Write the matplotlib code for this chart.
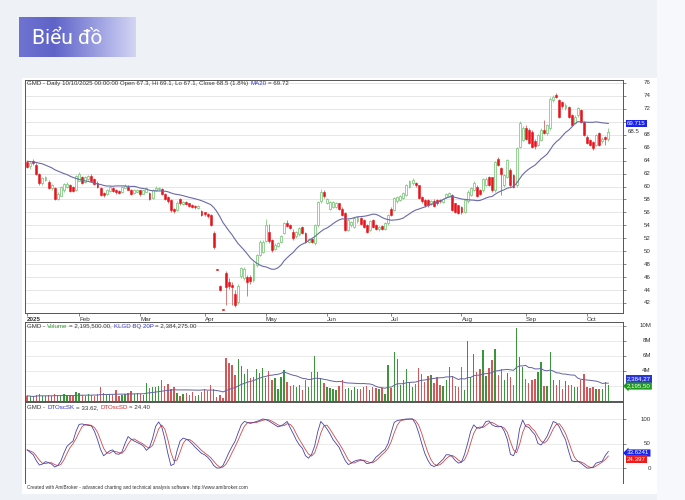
import numpy as np
import pandas as pd
import matplotlib
matplotlib.use("Agg")
import matplotlib.pyplot as plt
from matplotlib.colors import LinearSegmentedColormap
from matplotlib.patches import Rectangle
from matplotlib.transforms import blended_transform_factory

# GMD daily bars, 02/01/2025 .. 10/10/2025 (one value per trading day)
opens = [
    63.8, 63.1, 64.0, 63.4, 62.0, 60.5, 61.0, 60.7, 59.7, 59.8, 58.0, 58.6, 59.4, 59.9, 60.2, 60.0, 59.4,  # Jan
    60.9, 61.4, 60.7, 61.1, 61.6, 61.2, 60.6, 59.7, 59.0, 58.8, 59.3, 59.8, 59.4, 59.3, 59.1, 59.8, 60.0, 59.5, 59.0, 59.2,  # Feb
    59.4, 58.9, 59.2, 59.0, 58.3, 59.4, 59.6, 59.6, 58.9, 58.4, 57.9, 56.5, 56.4, 58.0, 57.3, 57.6, 57.4, 57.2, 57.0, 56.7, 56.2,  # Mar
    56.0, 55.8, 55.6, 52.8, 47.2, 44.6, 41.0, 46.6, 45.3, 44.8, 43.4, 42.2, 46.2, 45.9, 46.0, 46.0, 45.5, 47.9, 49.4, 49.9,  # Apr
    51.6, 53.0, 51.7, 50.4, 50.8, 51.5, 52.8, 54.4, 54.0, 53.0, 52.3, 52.6, 53.7, 52.8, 51.5, 51.9, 51.2, 54.0, 57.7, 59.2,  # May
    57.5, 56.6, 56.9, 56.9, 57.4, 56.6, 55.9, 53.3, 54.0, 53.8, 54.6, 55.1, 54.8, 54.0, 53.3, 54.8, 54.0, 53.4, 53.9, 53.5, 54.3,  # Jun
    56.6, 56.4, 57.7, 57.9, 58.2, 58.7, 60.0, 60.5, 60.5, 60.2, 58.4, 57.9, 57.9, 57.4, 57.8, 57.9, 57.9, 57.6, 58.4, 58.6, 58.7, 57.4, 57.1,  # Jul
    56.9, 56.1, 57.7, 58.7, 59.5, 60.0, 59.4, 59.4, 60.3, 61.4, 61.4, 59.4, 64.2, 62.8, 60.2, 61.5, 62.6, 61.8, 60.2, 66.1, 67.2,  # Aug
    69.0, 68.7, 68.5, 67.0, 66.4, 67.2, 68.7, 68.2, 69.0, 73.3, 74.2, 73.4, 73.0, 72.1, 72.3, 71.0, 69.8, 71.0, 71.8, 70.0,  # Sep
    67.7, 67.2, 66.9, 66.4, 68.2, 67.0, 67.6, 67.3,  # Oct
]
highs = [
    64.0, 63.8, 64.2, 63.6, 62.1, 61.5, 61.6, 61.0, 60.4, 60.0, 59.1, 60.1, 60.6, 60.7, 60.4, 60.1, 61.8,
    62.3, 61.6, 61.7, 61.8, 62.0, 61.3, 60.8, 59.9, 59.1, 59.6, 60.1, 60.0, 59.6, 59.4, 60.1, 60.4, 60.2, 59.6, 59.6, 59.6,
    59.5, 59.5, 59.9, 59.2, 59.6, 60.1, 60.0, 59.8, 59.0, 58.5, 58.0, 56.7, 57.7, 58.2, 57.8, 57.8, 57.5, 57.3, 57.1, 57.2, 56.4,
    56.1, 55.9, 55.7, 53.2, 47.3, 44.8, 41.0, 46.9, 45.8, 45.2, 44.0, 44.9, 47.6, 47.6, 46.4, 46.3, 48.3, 49.6, 51.7, 51.8,
    55.0, 54.2, 51.9, 51.2, 51.5, 52.5, 54.5, 54.9, 54.2, 53.4, 53.2, 53.8, 53.9, 53.0, 52.1, 52.1, 54.2, 57.8, 59.6, 59.4,
    58.2, 57.8, 57.8, 57.6, 57.5, 56.8, 56.0, 55.0, 54.7, 55.3, 55.5, 55.3, 55.0, 54.2, 54.8, 55.0, 54.2, 53.9, 54.0, 54.5, 55.8,
    56.8, 58.4, 58.6, 58.7, 59.1, 60.4, 61.0, 61.3, 60.7, 60.3, 58.6, 58.0, 58.1, 57.9, 58.0, 58.1, 58.0, 58.3, 59.0, 59.2, 58.9, 57.5, 57.2,
    57.0, 58.1, 59.4, 59.9, 60.8, 60.2, 59.6, 61.3, 61.4, 61.6, 61.5, 64.0, 64.5, 63.0, 62.0, 64.3, 62.8, 62.0, 66.1, 70.1, 69.3,
    69.5, 69.0, 68.8, 67.3, 68.1, 69.0, 70.3, 69.7, 73.8, 74.2, 74.5, 73.6, 73.2, 72.9, 72.5, 71.2, 71.0, 72.3, 72.0, 70.2,
    67.9, 67.4, 67.0, 68.1, 68.4, 67.6, 67.8, 69.1,
]
lows = [
    62.8, 62.7, 63.4, 61.8, 60.3, 60.3, 60.8, 59.6, 59.5, 57.9, 57.9, 58.5, 59.2, 59.8, 59.2, 59.1, 59.3,
    60.8, 60.4, 60.5, 61.0, 60.8, 60.2, 59.7, 58.5, 58.4, 58.7, 59.2, 59.1, 58.9, 58.8, 59.0, 59.7, 59.4, 58.7, 58.9, 59.1,
    58.6, 58.8, 59.1, 57.9, 58.1, 59.3, 59.4, 58.7, 57.9, 57.5, 56.1, 55.9, 56.2, 57.2, 57.1, 57.1, 56.9, 56.7, 56.6, 56.6, 55.5,
    55.5, 55.2, 53.9, 50.4, 47.1, 43.8, 40.9, 41.7, 44.2, 41.7, 41.4, 41.9, 45.8, 45.6, 43.1, 45.0, 45.3, 47.6, 49.2, 49.7,
    51.4, 51.3, 49.9, 50.2, 50.6, 51.3, 52.6, 53.7, 53.4, 51.8, 52.1, 52.4, 52.6, 51.3, 51.3, 51.2, 51.0, 53.8, 57.5, 58.3,
    57.3, 56.4, 56.7, 56.7, 56.4, 55.4, 53.1, 53.1, 53.8, 53.6, 54.4, 54.0, 53.6, 52.8, 53.1, 53.6, 53.3, 53.2, 53.3, 53.3, 54.1,
    55.4, 56.2, 57.5, 57.7, 58.0, 58.5, 59.8, 60.3, 60.0, 58.0, 57.5, 56.9, 56.9, 57.2, 56.8, 57.2, 57.5, 57.4, 58.2, 58.4, 56.2, 55.9, 55.7,
    55.7, 55.9, 57.5, 58.5, 59.3, 58.4, 58.7, 59.2, 60.1, 60.1, 59.2, 59.2, 63.1, 58.7, 60.0, 61.3, 60.0, 59.8, 60.0, 65.9, 67.0,
    67.2, 66.5, 65.9, 65.8, 66.2, 67.0, 68.1, 68.0, 68.8, 73.1, 73.7, 70.6, 72.2, 71.9, 70.6, 69.3, 69.6, 70.8, 69.8, 67.8,
    66.5, 66.2, 65.7, 66.2, 66.2, 66.8, 66.4, 67.1,
]
closes = [
    63.0, 63.6, 63.6, 61.9, 60.5, 61.3, 61.4, 59.8, 60.2, 58.0, 58.9, 59.9, 60.4, 60.4, 59.3, 59.3, 61.6,
    62.0, 60.6, 61.5, 61.6, 60.9, 60.4, 59.9, 58.7, 58.7, 59.4, 59.9, 59.3, 59.1, 59.0, 59.9, 60.1, 59.5, 58.9, 59.4, 59.4,
    58.8, 59.4, 59.7, 58.0, 59.4, 59.7, 59.8, 58.8, 58.0, 57.7, 56.3, 56.2, 57.5, 57.4, 57.6, 57.3, 57.0, 56.9, 56.8, 57.0, 55.6,
    55.7, 55.4, 54.0, 50.6, 47.1, 44.0, 40.9, 44.5, 44.7, 44.4, 41.7, 44.6, 47.4, 47.2, 45.3, 45.4, 48.1, 49.4, 51.5, 51.5,
    54.0, 51.6, 50.2, 51.0, 51.3, 52.3, 54.3, 53.9, 53.6, 52.0, 53.0, 53.6, 52.8, 51.5, 51.9, 51.4, 54.0, 57.6, 59.2, 58.5,
    58.0, 57.6, 57.6, 57.4, 56.6, 55.6, 53.3, 54.8, 54.5, 55.1, 55.3, 54.2, 53.8, 53.0, 54.6, 53.8, 53.5, 53.7, 53.5, 54.3, 55.6,
    55.6, 58.2, 58.4, 58.5, 59.0, 60.2, 60.8, 61.0, 60.2, 58.2, 57.7, 57.1, 57.1, 57.7, 57.0, 57.4, 57.7, 58.1, 58.8, 59.0, 56.4, 56.1, 55.9,
    56.0, 57.9, 59.2, 59.7, 60.6, 58.6, 58.9, 61.1, 61.2, 60.3, 59.4, 63.8, 63.3, 62.0, 61.8, 64.1, 60.2, 60.0, 65.9, 69.8, 69.0,
    67.4, 66.7, 66.1, 66.2, 67.9, 68.8, 68.3, 69.5, 73.6, 73.9, 73.9, 70.8, 72.4, 72.6, 70.8, 69.5, 70.8, 72.1, 70.0, 68.0,
    66.7, 66.4, 66.0, 67.9, 66.4, 67.3, 67.3, 68.5,
]
# volume in millions of shares
volume_mln = [
    0.7, 0.6, 0.5, 0.8, 0.9, 0.6, 0.7, 0.8, 0.6, 0.9, 0.7, 0.8, 0.9, 0.7, 0.8, 0.6, 1.2,
    1.0, 0.8, 0.7, 0.9, 0.8, 0.7, 0.9, 1.8, 1.0, 0.8, 0.9, 0.8, 1.5, 0.7, 0.8, 0.9, 1.0, 1.3, 0.9, 1.1,
    0.9, 0.8, 2.36, 1.69, 1.82, 1.82, 2.0, 2.8, 2.0, 2.27, 1.56, 1.82, 1.0, 0.6, 0.9, 1.0, 0.8, 1.24, 0.6, 0.8, 1.24,
    1.56, 1.3, 2.13, 1.56, 0.58, 0.8, 0.36, 5.69, 5.11, 4.8, 3.47, 5.56, 4.67, 3.6, 4.22, 3.0, 3.24, 4.22, 3.69, 4.44,
    3.0, 4.0, 2.8, 3.0, 1.56, 3.24, 4.13, 2.58, 2.0, 2.13, 1.91, 2.13, 1.47, 2.8, 1.82, 3.91, 6.0, 3.91, 3.0, 2.36,
    1.82, 1.69, 1.56, 1.47, 2.0, 2.8, 1.56, 1.69, 1.47, 1.82, 1.56, 1.56, 1.82, 2.0, 1.47, 1.82, 1.69, 1.56, 1.69, 0.93, 4.8,
    1.69, 6.5, 5.56, 2.13, 2.8, 4.22, 2.58, 1.82, 2.27, 4.36, 3.6, 2.58, 3.33, 3.47, 2.44, 3.16, 2.13, 2.0, 2.8, 4.49, 3.33, 2.0, 1.82,
    4.58, 1.47, 8.04, 3.16, 6.27, 3.91, 4.22, 6.8, 3.33, 4.36, 5.47, 6.89, 3.47, 4.22, 2.8, 3.69, 3.16, 2.13, 9.69, 5.91, 4.58,
    2.89, 2.36, 2.8, 2.89, 3.91, 5.24, 2.0, 2.0, 6.58, 2.8, 2.13, 2.8, 1.6, 2.6, 2.13, 2.13, 1.82, 1.91, 2.8, 3.55,
    1.82, 1.7, 1.8, 1.6, 1.55, 1.56, 2.58, 2.1955,
]
# DTOsc %K line
dtosc_sk = [
    37, 32, 27, 15, 6, 8, 13, 11, 8, 2,
    5, 14, 30, 44, 50, 55, 75, 89, 90, 88,
    87, 86, 75, 58, 38, 25, 30, 35, 37, 29,
    28, 33, 50, 64, 59, 55, 52, 49, 45, 36,
    42, 60, 85, 94, 84, 60, 30, 5, 8, 35,
    55, 61, 59, 55, 49, 42, 36, 30, 27, 22,
    15, 5, 0, 0, 5, 18, 32, 44, 55, 72,
    88, 95, 93, 91, 93, 95, 97, 100, 99, 96,
    92, 88, 84, 86, 90, 95, 82, 70, 57, 47,
    40, 25, 20, 28, 45, 74, 95, 88, 80, 70,
    58, 50, 42, 28, 15, 7, 10, 14, 16, 17,
    15, 9, 10, 13, 22, 27, 33, 38, 50, 72,
    93, 97, 98, 99, 100, 100, 100, 90, 72, 50,
    30, 16, 6, 3, 6, 12, 18, 27, 27, 23,
    15, 10, 12, 28, 50, 75, 88, 82, 81, 85,
    95, 96, 88, 85, 84, 85, 75, 58, 28, 25,
    40, 80, 98, 85, 83, 75, 68, 50, 47, 55,
    65, 80, 95, 92, 84, 70, 58, 35, 15, 13,
    14, 10, 5, 0, 0, 2, 10, 12, 14, 25.5,
    33.6241,
]
# MA20 of the first 19 bars (it needs Dec 2024 closes)
ma20_start = [63.9, 63.85, 63.8, 63.7, 63.6, 63.5, 63.3, 63.1, 62.9, 62.6,
              62.4, 62.2, 62.0, 61.85, 61.6, 61.4, 61.25, 61.1, 61.0]

month_first_bar = [0, 17, 37, 58, 78, 98, 119, 142, 163, 183]
month_labels = ["2025", "Feb", "Mar", "Apr", "May", "Jun", "Jul", "Aug", "Sep", "Oct"]
price_ticks = list(range(42, 77, 2))
vol_ticks = [2, 4, 6, 8, 10]
osc_ticks = [0, 50, 100]
# tick labels that sit under the value boxes on the right and are not shown
hidden_price_labels = [70]
hidden_vol_labels = [2]

assert len(opens) == len(highs) == len(lows) == len(closes) == len(volume_mln) == len(dtosc_sk) == 191

W, H = 685, 500
FONT = "Liberation Sans"
DARK = "#333333"


def fx(px):
    return px / W


def fy(py):
    return 1 - py / H


o = np.array(opens)
h = np.array(highs)
l = np.array(lows)
c = np.array(closes)
vol = np.array(volume_mln)
x = np.arange(len(c))
up = c >= o

ma20 = pd.Series(c).rolling(20).mean().to_numpy()
ma20[:19] = ma20_start
vol_ma = pd.Series(vol).rolling(20, min_periods=1).mean().to_numpy()
sk = np.array(dtosc_sk, dtype=float)
sd = pd.Series(sk).rolling(3, min_periods=1).mean().to_numpy()

fig = plt.figure(figsize=(W / 100, H / 100), dpi=100)
fig.patch.set_facecolor("#eef2f7")
fig.add_artist(Rectangle((fx(657), 0), 1 - fx(657), 1, transform=fig.transFigure,
                         facecolor="#f6f8fb", edgecolor="none", zorder=-10))
fig.add_artist(Rectangle((fx(22), fy(494)), fx(657) - fx(22), fy(78) - fy(494),
                         transform=fig.transFigure, facecolor="white", edgecolor="none", zorder=-9))

# header
hax = fig.add_axes([fx(19), fy(57), fx(136) - fx(19), fy(17) - fy(57)])
grad = np.linspace(0, 1, 256).reshape(1, -1)
hcmap = LinearSegmentedColormap.from_list(
    "hdr", [(0, "#6f73d1"), (0.3, "#5f63c8"), (0.75, "#a9acE6"), (1, "#d3d5f4")])
hax.imshow(grad, aspect="auto", cmap=hcmap, extent=(0, 1, 0, 1))
hax.set_axis_off()
hax.text(0.11, 0.47, "Biểu đồ", color="white", fontsize=15, family="Roboto",
         va="center", ha="left")

L, R = 25, 623


def panel(top, bottom):
    ax = fig.add_axes([fx(L), fy(bottom), fx(R) - fx(L), fy(top) - fy(bottom)])
    ax.set_xlim(-0.7, 194.8)
    for s in ax.spines.values():
        s.set_color("#555555")
        s.set_linewidth(0.7)
    ax.tick_params(axis="y", left=False, labelleft=False, right=True, labelright=False,
                   direction="out", length=2.5, width=0.5, color="#555555")
    return ax


ax_p = panel(80, 313)
ax_v = panel(322, 401)
ax_o = panel(402, 483)
ax_o.spines["bottom"].set_visible(False)

LAB_X = (651 - L) / (R - L)
BOX_X = (627 - L) / (R - L)


def right_labels(ax, ticks, texts, hidden=()):
    tr = blended_transform_factory(ax.transAxes, ax.transData)
    for v, s in zip(ticks, texts):
        if v in hidden:
            continue
        ax.text(LAB_X, v, s, transform=tr, ha="right", va="center", fontsize=4.4,
                color=DARK, family=FONT, clip_on=False)


def value_box(ax, y, s, fc, style="square"):
    tr = blended_transform_factory(ax.transAxes, ax.transData)
    ax.text(BOX_X, y, s, transform=tr, ha="left", va="center", fontsize=4.4, color="white",
            family=FONT, clip_on=False, zorder=10,
            bbox=dict(boxstyle=style + ",pad=0.18", fc=fc, ec="none"))


def title_line(ax, y, parts, size=4.4):
    prev = ax.text(0.004, y, parts[0][0], transform=ax.transAxes, color=parts[0][1],
                   fontsize=size, family=FONT, va="center", ha="left")
    for s, col in parts[1:]:
        prev = ax.annotate(s, xy=(1, 0), xycoords=prev, xytext=(1.2, 0),
                           textcoords="offset points", color=col, fontsize=size,
                           family=FONT, va="bottom", ha="left")


# ---- price panel
UP = "#6cc06c"
DN = "#e5141c"
DN_WICK = "#c84a4a"
ax_p.set_ylim(40.45, 76.46)
ax_p.set_yticks(price_ticks)
ax_p.grid(axis="y", color="#e2e2e2", lw=0.6)
ax_p.set_axisbelow(True)
ax_p.vlines(x[up], l[up], h[up], color=UP, lw=0.5, zorder=2)
ax_p.vlines(x[~up], l[~up], h[~up], color=DN_WICK, lw=0.5, zorder=2)
body_lo = np.minimum(o, c)
body_h = np.maximum(np.abs(c - o), 0.08)
ax_p.bar(x[up], body_h[up], bottom=body_lo[up], width=0.62, facecolor="white",
         edgecolor=UP, lw=0.5, zorder=3)
ax_p.bar(x[~up], body_h[~up], bottom=body_lo[~up], width=0.62, facecolor=DN,
         edgecolor=DN, lw=0.4, zorder=3)
ax_p.plot(x, ma20, color="#6a6aaa", lw=0.8, zorder=4)

ax_p.set_xticks(month_first_bar)
ax_p.set_xticklabels(month_labels, fontsize=4.5, family=FONT, color=DARK, ha="left")
ax_p.get_xticklabels()[0].set_fontweight("bold")
ax_p.tick_params(axis="x", direction="out", length=2.2, width=0.5, color="#555555", pad=0.6)

right_labels(ax_p, price_ticks, [str(v) for v in price_ticks], hidden_price_labels)
value_box(ax_p, ma20[-1], "69.715", "#1a22f0")
ax_p.text(BOX_X + 0.002, c[-1] - 0.05, "68.5",
          transform=blended_transform_factory(ax_p.transAxes, ax_p.transData),
          ha="left", va="center", fontsize=4.4, color=DARK, family=FONT, clip_on=False)
title_line(ax_p, 0.983, [
    ("GMD - Daily 10/10/2025 00:00:00 Open 67.3, Hi 69.1, Lo 67.1, Close 68.5 (1.8%)", DARK),
    ("MA20", "#2b2bd0"), ("= 69.72", DARK)])

# ---- volume panel
ax_v.set_ylim(0, 10.53)
ax_v.set_yticks(vol_ticks)
ax_v.set_xticks([])
ax_v.grid(axis="y", color="#e6e6e6", lw=0.6)
ax_v.set_axisbelow(True)
ax_v.bar(x[up], vol[up], width=0.45, color="#3b963b", zorder=2)
ax_v.bar(x[~up], vol[~up], width=0.45, color="#d4585a", zorder=2)
ax_v.plot(x, vol_ma, color="#6262a6", lw=0.7, zorder=3)
right_labels(ax_v, vol_ticks, [f"{v}M" for v in vol_ticks], hidden_vol_labels)
value_box(ax_v, vol_ma[-1] + 0.55, "2,384,27", "#2a35d8")
value_box(ax_v, vol[-1] - 0.2, "2,195,50", "#1e9a1e", style="larrow")
title_line(ax_v, 0.949, [
    ("GMD -", DARK), ("Volume", "#2e9a2e"), ("= 2,195,500.00,", DARK),
    ("KLGD BQ 20P", "#3a3ac0"), ("= 2,384,275.00", DARK)])

# ---- oscillator panel
ax_o.set_ylim(-30.6, 134.7)
ax_o.set_yticks(osc_ticks)
ax_o.set_xticks([])
ax_o.grid(axis="y", color="#e6e6e6", lw=0.6)
ax_o.set_axisbelow(True)
ax_o.plot(x, sd, color="#cc4a4a", lw=0.6, zorder=2)
ax_o.plot(x, sk, color="#4444aa", lw=0.6, zorder=3)
right_labels(ax_o, osc_ticks, [str(v) for v in osc_ticks])
value_box(ax_o, sk[-1] - 3, "33.6241", "#1a22f0", style="larrow")
value_box(ax_o, sd[-1] - 6, "24.397", "#f01a1a")
title_line(ax_o, 0.926, [
    ("GMD -", DARK), ("DTOscSK", "#3030c0"), ("= 33.62,", DARK),
    ("DTOscSD", "#cc2a2a"), ("= 24.40", DARK)])

fig.text(fx(27), fy(487.5), "Created with AmiBroker - advanced charting and technical analysis "
         "software. http://www.amibroker.com", fontsize=3.4, family=FONT, color=DARK,
         ha="left", va="center")

fig.savefig("out.png", dpi=100, facecolor=fig.get_facecolor())
